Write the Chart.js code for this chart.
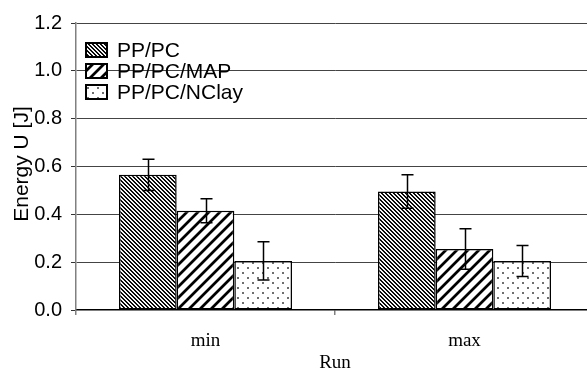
<!DOCTYPE html>
<html>
<head>
<meta charset="utf-8">
<script src="https://cdn.jsdelivr.net/npm/chart.js@4/dist/chart.umd.min.js"></script>
<style>
  html, body { margin: 0; padding: 0; background: #fff; overflow: hidden; width: 587px; height: 373px; }
  #wrap { position: relative; width: 594px; height: 373px; }
</style>
</head>
<body>
<div id="wrap"><canvas id="c" width="594" height="373"></canvas></div>
<script>
// ---- data ----
const categories = ['min', 'max'];
const seriesNames = ['PP/PC', 'PP/PC/MAP', 'PP/PC/NClay'];
const ppPc      = [0.565, 0.495];
const ppPcMap   = [0.415, 0.255];
const ppPcNClay = [0.205, 0.205];
const ppPcErr      = [0.065, 0.07];
const ppPcMapErr   = [0.05, 0.085];
const ppPcNClayErr = [0.08, 0.065];
const yTicks = [0.0, 0.2, 0.4, 0.6, 0.8, 1.0, 1.2];
const xTitle = 'Run';
const yTitle = 'Energy U [J]';

// ---- patterns ----
function makePattern(w, h, fn) {
  const c = document.createElement('canvas');
  c.width = w; c.height = h;
  const x = c.getContext('2d');
  const img = x.createImageData(w, h);
  for (let py = 0; py < h; py++) {
    for (let px = 0; px < w; px++) {
      const v = fn(px, py);
      const i = (py * w + px) * 4;
      img.data[i] = v; img.data[i + 1] = v; img.data[i + 2] = v; img.data[i + 3] = 255;
    }
  }
  x.putImageData(img, 0, 0);
  return x.createPattern(c, 'repeat');
}
const patBack = makePattern(4, 4, (x, y) => {
  const d = ((x - y) % 4 + 4) % 4;
  return [0, 20, 255, 235][d];
});
const patFwd = makePattern(11, 11, (x, y) => {
  const d = (x + y) % 11;
  return [140, 0, 0, 0, 140, 255, 255, 255, 255, 255, 255][d];
});
const patDots = makePattern(10, 10, (x, y) => {
  const inDot = (cx, cy) => (x === cx || x === cx + 1) && (y === cy || y === cy + 1);
  if (inDot(2, 2) || inDot(7, 7)) return 110;
  return 255;
});
const patterns = [patBack, patFwd, patDots];
const seriesValues = [ppPc, ppPcMap, ppPcNClay];
const seriesErrors = [ppPcErr, ppPcMapErr, ppPcNClayErr];

// ---- plugins ----
const errorBars = {
  id: 'errorBars',
  afterDatasetsDraw(chart) {
    const ctx = chart.ctx;
    const y = chart.scales.y;
    ctx.save();
    ctx.strokeStyle = '#000';
    ctx.lineWidth = 1.5;
    chart.data.datasets.forEach((ds, di) => {
      const meta = chart.getDatasetMeta(di);
      meta.data.forEach((bar, i) => {
        const v = ds.data[i], e = ds.err[i];
        const yt = y.getPixelForValue(v + e), yb = y.getPixelForValue(v - e);
        const x = Math.round(bar.x) + 0.5;
        ctx.beginPath();
        ctx.moveTo(x, yt); ctx.lineTo(x, yb);
        ctx.moveTo(x - 6, yt); ctx.lineTo(x + 6, yt);
        ctx.moveTo(x - 6, yb); ctx.lineTo(x + 6, yb);
        ctx.stroke();
      });
    });
    ctx.restore();
  }
};
const customText = {
  id: 'customText',
  afterDraw(chart) {
    const ctx = chart.ctx;
    ctx.save();
    // legend
    ctx.font = '21px "Liberation Sans", Arial, sans-serif';
    ctx.textBaseline = 'middle';
    ctx.fillStyle = '#000';
    chart.data.datasets.forEach((ds, i) => {
      const cy = 50 + i * 21;
      ctx.fillStyle = ds.backgroundColor;
      ctx.fillRect(86, cy - 7, 21, 14);
      ctx.strokeStyle = '#000';
      ctx.lineWidth = 2;
      ctx.strokeRect(86, cy - 7, 21, 14);
      ctx.fillStyle = '#000';
      ctx.fillText(ds.label, 117, cy + 1);
    });
    // y title
    ctx.translate(22, 164);
    ctx.rotate(-Math.PI / 2);
    ctx.textAlign = 'center';
    ctx.textBaseline = 'middle';
    ctx.fillText(yTitle, 0, 0);
    ctx.restore();
  }
};

new Chart(document.getElementById('c'), {
  type: 'bar',
  data: {
    labels: categories,
    datasets: seriesNames.map((n, i) => ({
      label: n,
      data: seriesValues[i],
      err: seriesErrors[i],
      backgroundColor: patterns[i],
      borderColor: '#000',
      borderWidth: 1.5,
      borderSkipped: false,
      barPercentage: 1.0,
      categoryPercentage: 0.668
    }))
  },
  options: {
    responsive: false,
    animation: false,
    devicePixelRatio: 1,
    layout: { padding: { top: 23, right: 0, left: 0, bottom: 0 } },
    plugins: { legend: { display: false }, tooltip: { enabled: false } },
    scales: {
      x: {
        afterFit(s) { s.height = 63; },
        offset: true,
        grid: { offset: true, drawOnChartArea: false, tickLength: 5, color: '#808080', lineWidth: 1.5 },
        border: { display: true, color: '#000', width: 1.5 },
        ticks: { color: '#000', padding: 15, font: { family: '"Liberation Serif", "Times New Roman", serif', size: 19 } },
        title: { display: true, text: xTitle, color: '#000', padding: { top: 0, bottom: 0 },
                 font: { family: '"Liberation Serif", "Times New Roman", serif', size: 19, lineHeight: 1.0 } }
      },
      y: {
        afterFit(s) { s.width = 76; },
        min: 0, max: 1.2,
        afterBuildTicks(s) { s.ticks = yTicks.map(v => ({ value: v })); },
        grid: {
          color: c => (c.tick && c.tick.value === 0) ? 'rgba(0,0,0,0)' : '#444',
          tickColor: '#333',
          lineWidth: 1,
          tickLength: 5,
          borderDash: [7, 8],
          tickBorderDash: []
        },
        border: { display: true, color: '#808080', width: 1.5 },
        ticks: {
          color: '#000', padding: 9,
          font: { family: '"Liberation Sans", Arial, sans-serif', size: 20 },
          callback: v => Number(v).toFixed(1)
        }
      }
    }
  },
  plugins: [errorBars, customText]
});
</script>
</body>
</html>
